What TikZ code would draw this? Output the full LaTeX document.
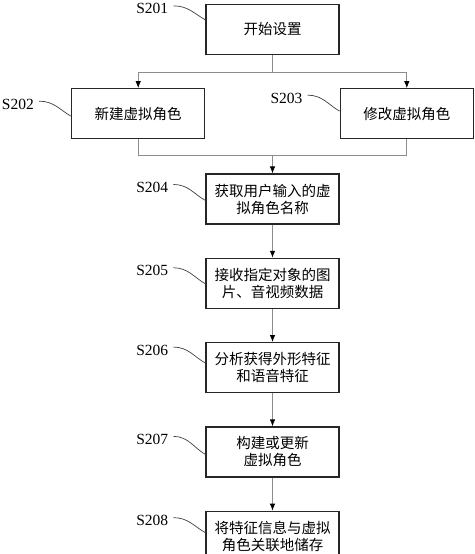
\documentclass[tikz,border=0pt]{standalone}
\usepackage{fontspec}
\setmainfont{Liberation Serif}
\newfontfamily\cjk{Noto Sans CJK SC}
\usepackage{xcolor}
\usetikzlibrary{shapes,arrows,arrows.meta,positioning,calc}

\begin{document}
\begin{tikzpicture}[
    node distance=33pt,
    box/.style={rectangle, draw=black!85, line width=1.3pt, align=center, minimum width=133pt, minimum height=50pt, inner sep=0pt, font=\cjk\fontsize{14.5}{17}\selectfont},
    tag/.style={inner sep=0pt, font=\fontsize{15.5}{16}\selectfont},
    wig/.style={draw=black!75, line width=0.7pt},
    link/.style={draw=black!45, line width=0.8pt},
    arr/.style={link, -{Latex[black, length=7pt, width=5.5pt]}}
]
\useasboundingbox (0,0) rectangle (474pt,-554pt);

\node[box] (s201) at (272.5pt,-29.5pt) {开始设置};
\node[box, below left=33pt and 0pt of s201] (s202) {新建虚拟角色};
\node[box, below right=33pt and 0pt of s201] (s203) {修改虚拟角色};

\coordinate[below=16pt of s202.south] (jl);
\coordinate (join) at (s201 |- jl);

\node[box, below=18pt of join] (s204) {获取用户输入的虚\\拟角色名称};
\node[box, below=of s204] (s205) {接收指定对象的图\\片、音视频数据};
\node[box, below=of s205] (s206) {分析获得外形特征\\和语音特征};
\node[box, below=of s206] (s207) {构建或更新\\虚拟角色};
\node[box, below=of s207] (s208) {将特征信息与虚拟\\角色关联地储存};

% step labels
\node[tag, left=37pt of s201.north west, yshift=-5pt] (t201) {S201};
\node[tag, left=37pt of s202.north west, yshift=-16pt] (t202) {S202};
\node[tag, left=37pt of s203.north west, yshift=-10pt] (t203) {S203};
\node[tag, left=37pt of s204.north west, yshift=-14pt] (t204) {S204};
\node[tag, left=37pt of s205.north west, yshift=-13pt] (t205) {S205};
\node[tag, left=37pt of s206.north west, yshift=-8pt] (t206) {S206};
\node[tag, left=37pt of s207.north west, yshift=-13pt] (t207) {S207};
\node[tag, left=37pt of s208.north west, yshift=-10pt] (t208) {S208};

\foreach \s/\d in {201/16, 202/28, 203/23, 204/27, 205/26, 206/21, 207/28, 208/22}
    \draw[wig] ([shift={(5pt,3pt)}]t\s.east) .. controls +(15pt,0) and +(-11pt,6pt) .. ([yshift=-\d pt]s\s.north west);

% connectors
\draw[link] (s201.south) -- ++(0,-17pt) coordinate (fork);
\draw[arr] (fork) -| (s202.north);
\draw[arr] (fork) -| (s203.north);
\draw[link] (s202.south) -- (jl) -| (s203.south);
\draw[arr] (join) -- (s204);
\draw[arr] (s204) -- (s205);
\draw[arr] (s205) -- (s206);
\draw[arr] (s206) -- (s207);
\draw[arr] (s207) -- (s208);

\end{tikzpicture}
\end{document}
